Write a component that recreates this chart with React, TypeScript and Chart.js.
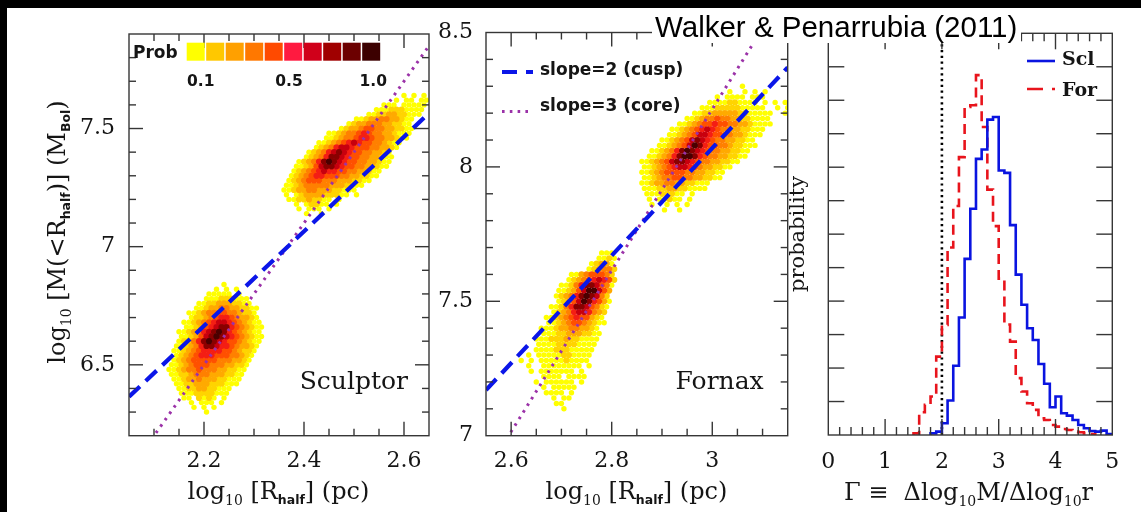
import { useEffect, useRef } from 'react';
import { Chart, registerables } from 'chart.js';

Chart.register(...registerables);

// ------------------------------------------------------------------ data
const probColors = ['#ffff00', '#ffc800', '#ffa000', '#ff7800', '#ff4a00', '#ff1a40', '#d0001a', '#a00000', '#6c0000', '#3c0000'];
const probLabels = ['0.1', '0.5', '1.0'];
// colour of density levels 1..9 of the clouds
const cloudColors = ['#ffff00', '#ffd400', '#ffaa00', '#ff8000', '#ff5000', '#f41e14', '#c8000e', '#8a0000', '#4a0000'];

// density maps: one character per cell ('.' = empty, 1..9 = level)
const cellSize = [0.01, 0.02]; // [d log R, d log M]

const sculptorHighOrigin = [2.36, 7.64]; // x of first column, y of first row
const sculptorHighRows = [
  '........................1.1.1.',
  '......................1.11.11.',
  '....................111.11111.',
  '..................1112221111..',
  '.................11223322111..',
  '..............112334433211....',
  '.............1233444332211....',
  '...........123345544332211....',
  '.........11234456544332111....',
  '........11234456654433211.....',
  '.......11234567655443211......',
  '......12346776555443321.......',
  '.....12346787655443321........',
  '....123468876554433211........',
  '...1234689876554433211........',
  '..1123578876554433211.........',
  '..123456766554433211..........',
  '.123456655544332211...........',
  '.12345554443332211............',
  '1123444443332211..............',
  '112334433322111...............',
  '1.12333322211.1...............',
  '.112232211.1..................',
  '..1.12211.1...................',
  '...1.111.1....................',
  '....1..1......................',
];

const sculptorLowOrigin = [2.13, 6.84];
const sculptorLowRows = [
  '...........1.......',
  '.........1.1.1.....',
  '........11111.1....',
  '.......111222111...',
  '......11223332211..',
  '.....1123344332211.',
  '....11234455443221.',
  '....12234566543321.',
  '...1123456776543211',
  '...1123567886543211',
  '..11234678986543211',
  '..11235789876543211',
  '..12246898765543211',
  '.11234688766543321.',
  '.11234566665543221.',
  '.1234566655544321..',
  '.1234555554443321..',
  '1123455544433221...',
  '1123445444332211...',
  '112234443332211....',
  '.11233433322111....',
  '.1122333222111.....',
  '..11223322111......',
  '..1112222111.......',
  '...11.2121.1.......',
  '....1.111.1........',
  '.....1.1.1.........',
  '.......1...........',
];

const fornaxHighOrigin = [2.86, 8.30];
const fornaxHighRows = [
  '....................1.........',
  '.................1..1.1.1.....',
  '...............1.1111.111.....',
  '.............1111221111.1.1.1.',
  '............1112222211111..1.1',
  '..........1122333332211111..1.',
  '.........11234454433221111....',
  '.......1123455655443321111....',
  '......1123456765443322111.....',
  '.....1123457765544332111......',
  '....1123457876544332211.......',
  '...11234579865544322111.......',
  '..11234689876544332211........',
  '.11234689986544332211.........',
  '11234578876544332211..........',
  '112345677654332211............',
  '11234555544332211.............',
  '1123445544332211..............',
  '11233443322111................',
  '1112233221111.................',
  '.11122211.1...................',
  '.1.11211.1....................',
  '..1..1.1.1....................',
  '....1..1......................',
];

const fornaxLowOrigin = [2.62, 7.68];
const fornaxLowRows = [
  '................111.',
  '...............1121.',
  '..............12331.',
  '.............123442.',
  '..........113455542.',
  '.........1234567652.',
  '........11246887541.',
  '.......11235799753..',
  '.......12346898742..',
  '.......12357986531..',
  '......112468875421..',
  '......12346776432...',
  '.....112345655321...',
  '.....112345543211...',
  '....111233443321....',
  '....111223332211....',
  '...1112223221111....',
  '...111122221111.....',
  '...111122211111.....',
  '.1.11111221111......',
  '1.1.1111121111......',
  '.1..11111111.1......',
  '..1.1111111.1.......',
  '....1111.1111.......',
  '...1.111111.1.......',
  '....1.11111.........',
  '.....1111.1.........',
  '......1.11..........',
  '.......11...........',
  '........1...........',
];

// reference relations log M = slope * log R + intercept
const slopes = [2, 3];
const slopeLabels = ['slope=2 (cusp)', 'slope=3 (core)'];
const sculptorIntercepts = [2.265, -0.1];
const fornaxIntercepts = [2.07, -0.785];

// axes
const sculptorXRange = [2.05, 2.65];
const sculptorYRange = [6.2, 7.9];
const fornaxXRange = [2.55, 3.15];
const fornaxYRange = [7, 8.5];
const gammaRange = [0, 5];
const probRange = [0, 12];
const sculptorXTicks = [2.2, 2.4, 2.6];
const sculptorYTicks = [6.5, 7, 7.5];
const fornaxXTicks = [2.6, 2.8, 3];
const fornaxYTicks = [7, 7.5, 8, 8.5];
const gammaTicks = [0, 1, 2, 3, 4, 5];

// histograms of Gamma
const gammaEdges = [1.5, 1.6, 1.7, 1.8, 1.9, 2.0, 2.1, 2.2, 2.3, 2.4, 2.5, 2.6, 2.7, 2.8, 2.9, 3.0, 3.1, 3.2, 3.3, 3.4, 3.5,
  3.6, 3.7, 3.8, 3.9, 4.0, 4.1, 4.2, 4.3, 4.4, 4.5, 4.6, 4.7, 4.8, 4.9, 5.0];
const sclProb = [0, 0, 0, 0.05, 0.1, 0.35, 1.03, 2.07, 3.51, 5.26, 6.76, 8.25, 8.53, 9.42, 9.5, 7.9, 7.83, 6.27, 4.79, 3.89,
  3.19, 2.84, 2.12, 1.53, 0.83, 1.15, 0.65, 0.58, 0.45, 0.3, 0.2, 0.12, 0.1, 0.13, 0.03];
const forProb = [0.05, 0.68, 0.9, 1.15, 2.34, 3.29, 5.6, 6.84, 8.3, 9.8, 9.85, 10.75, 9.2, 7.33, 6.24, 4.67, 3.3, 2.79, 1.7, 1.3,
  0.95, 0.75, 0.5, 0.45, 0.3, 0.25, 0.18, 0.15, 0.1, 0.08, 0.05, 0.03, 0, 0, 0];
const cuspGamma = 2;

// ------------------------------------------------------------------ helpers
const SERIF = '"DejaVu Serif", "Liberation Serif", serif';
const AX = '#363636';
const TXT = '#151515';

const serif = (s: number) => `${s}px ${SERIF}`;
const subBold = (s: number) => `bold ${s}px "DejaVu Sans", sans-serif`;

function cloudDatasets(clouds: any[]) {
  const buckets: any[][] = cloudColors.map(() => []);
  clouds.forEach(({ origin, rows }) => {
    rows.forEach((row: string, j: number) => {
      // alternate rows are offset by half a cell (hexagonal map)
      const shift = (j % 2) * 0.5;
      for (let i = 0; i < row.length; i++) {
        const c = row[i];
        if (c >= '1' && c <= '9') {
          buckets[+c - 1].push({ x: origin[0] + (i + shift) * cellSize[0], y: origin[1] - j * cellSize[1] });
        }
      }
    });
  });
  return buckets.map((pts, k) => ({
    type: 'scatter',
    data: pts,
    pointRadius: k === 0 ? 2.7 : 3.1,
    pointBackgroundColor: cloudColors[k],
    pointBorderWidth: 0,
    pointHoverRadius: 0,
    clip: 0,
    order: 30 - k,
  }));
}

function relationDatasets(xr: number[], intercepts: number[]) {
  const styles = [
    { color: '#0b16e8', width: 4.2, dash: [15, 8] },
    { color: '#9b32a8', width: 3, dash: [2.6, 5.2] },
  ];
  return slopes.map((s, i) => ({
    type: 'line',
    showLine: true,
    data: [{ x: xr[0], y: s * xr[0] + intercepts[i] }, { x: xr[1], y: s * xr[1] + intercepts[i] }],
    borderColor: styles[i].color,
    borderWidth: styles[i].width,
    borderDash: styles[i].dash,
    pointRadius: 0,
    fill: false,
    clip: 0,
    order: i === 0 ? 1 : 2,
  }));
}

function inner(min: number, max: number, step: number) {
  const n = Math.round((max - min) / step);
  const out: number[] = [];
  for (let k = 1; k < n; k++) out.push(min + k * step);
  return out;
}

function line(ctx: CanvasRenderingContext2D, x1: number, y1: number, x2: number, y2: number) {
  ctx.beginPath();
  ctx.moveTo(x1, y1);
  ctx.lineTo(x2, y2);
  ctx.stroke();
}

function drawAxes(chart: any, spec: any) {
  const { ctx, chartArea: a } = chart;
  const x = chart.scales.x;
  const y = chart.scales.y;
  ctx.save();
  ctx.strokeStyle = AX;
  ctx.lineWidth = 1.4;
  const isMaj = (arr: number[], v: number, st: number) => arr.some((m) => Math.abs(m - v) < st / 10);
  inner(x.min, x.max, spec.xStep).forEach((v) => {
    const p = x.getPixelForValue(v);
    const L = isMaj(spec.xMajor, v, spec.xStep) ? spec.majLen : spec.minLen;
    line(ctx, p, a.bottom, p, a.bottom - L);
    line(ctx, p, a.top, p, a.top + L);
  });
  inner(y.min, y.max, spec.yStep).forEach((v) => {
    const p = y.getPixelForValue(v);
    const L = spec.yAllMajor || isMaj(spec.yMajor, v, spec.yStep) ? spec.majLen : spec.minLen;
    line(ctx, a.left, p, a.left + L, p);
    line(ctx, a.right, p, a.right - L, p);
  });
  ctx.strokeRect(a.left, a.top, a.right - a.left, a.bottom - a.top);

  ctx.fillStyle = TXT;
  ctx.font = serif(spec.tickFont);
  ctx.textAlign = 'center';
  ctx.textBaseline = 'alphabetic';
  spec.xMajor.forEach((v: number) => ctx.fillText(String(v), x.getPixelForValue(v), a.bottom + spec.xLabelOff));
  if (spec.yLabels) {
    ctx.textAlign = 'right';
    ctx.textBaseline = 'middle';
    spec.yMajor.forEach((v: number) => ctx.fillText(String(v), a.left - spec.yLabelGap, y.getPixelForValue(v)));
  }
  ctx.restore();
}

type Part = { t: string; font: string; dy?: number };

function drawRich(ctx: CanvasRenderingContext2D, parts: Part[], cx: number, cy: number, rot = 0) {
  ctx.save();
  ctx.translate(cx, cy);
  ctx.rotate(rot);
  let w = 0;
  parts.forEach((p) => { ctx.font = p.font; w += ctx.measureText(p.t).width; });
  let px = -w / 2;
  ctx.fillStyle = TXT;
  ctx.textAlign = 'left';
  ctx.textBaseline = 'alphabetic';
  parts.forEach((p) => {
    ctx.font = p.font;
    ctx.fillText(p.t, px, p.dy || 0);
    px += ctx.measureText(p.t).width;
  });
  ctx.restore();
}

const log10Parts = (s: number): Part[] => [
  { t: 'log', font: serif(s) },
  { t: '10', font: serif(s * 0.58), dy: s * 0.25 },
];
const halfPart = (s: number): Part => ({ t: 'half', font: subBold(s * 0.52), dy: s * 0.22 });
const rHalfTitle = (s: number): Part[] => [
  ...log10Parts(s),
  { t: ' [R', font: serif(s) },
  halfPart(s),
  { t: '] (pc)', font: serif(s) },
];

function baseOptions(xr: number[], yr: number[], pad: any) {
  return {
    responsive: false,
    animation: false,
    events: [],
    layout: { padding: pad },
    plugins: { legend: { display: false }, tooltip: { enabled: false }, title: { display: false } },
    scales: {
      x: { type: 'linear', display: false, min: xr[0], max: xr[1] },
      y: { type: 'linear', display: false, min: yr[0], max: yr[1] },
    },
  };
}

// ------------------------------------------------------------------ panels
function sculptorConfig(): any {
  return {
    type: 'scatter',
    data: {
      datasets: [
        ...cloudDatasets([
          { origin: sculptorHighOrigin, rows: sculptorHighRows },
          { origin: sculptorLowOrigin, rows: sculptorLowRows },
        ]),
        ...relationDatasets(sculptorXRange, sculptorIntercepts),
      ],
    },
    options: baseOptions(sculptorXRange, sculptorYRange, { left: 121, right: 712, top: 26, bottom: 76.3 }),
    plugins: [{
      id: 'sculptorDeco',
      afterDatasetsDraw(chart: any) {
        const { ctx, chartArea: a } = chart;
        drawAxes(chart, {
          xMajor: sculptorXTicks, xStep: 0.05, yMajor: sculptorYTicks, yStep: 0.1,
          majLen: 14, minLen: 7, tickFont: 22, xLabelOff: 31, yLabels: true, yLabelGap: 14,
        });
        // colour bar
        const bx = a.left + 57.7;
        const by = a.top + 8.7;
        const sw = 19.5;
        probColors.forEach((c, i) => {
          ctx.fillStyle = c;
          ctx.fillRect(bx + i * sw, by, sw - 1.5, 18);
        });
        ctx.fillStyle = TXT;
        ctx.font = 'bold 17px "DejaVu Sans", sans-serif';
        ctx.textAlign = 'left';
        ctx.fillText('Prob', a.left + 4, a.top + 24);
        ctx.font = 'bold 15.5px "DejaVu Sans", sans-serif';
        ctx.textAlign = 'center';
        const offs = [14, 102.3, 186.6];
        probLabels.forEach((t, i) => ctx.fillText(t, bx + offs[i], a.top + 51.5));
        // name
        ctx.font = serif(25);
        ctx.textAlign = 'right';
        ctx.fillText('Sculptor', a.right - 21, a.top + 355);
        // axis titles
        drawRich(ctx, rHalfTitle(24), (a.left + a.right) / 2 - 0.5, 491);
        drawRich(ctx, [
          ...log10Parts(24),
          { t: ' [M(<R', font: serif(24) },
          halfPart(24),
          { t: ')] (M', font: serif(24) },
          { t: 'Bol', font: subBold(24 * 0.52), dy: 24 * 0.22 },
          { t: ')', font: serif(24) },
        ], 57, 224, -Math.PI / 2);
      },
    }],
  };
}

function fornaxConfig(): any {
  return {
    type: 'scatter',
    data: {
      datasets: [
        ...cloudDatasets([
          { origin: fornaxHighOrigin, rows: fornaxHighRows },
          { origin: fornaxLowOrigin, rows: fornaxLowRows },
        ]),
        ...relationDatasets(fornaxXRange, fornaxIntercepts),
      ],
    },
    options: baseOptions(fornaxXRange, fornaxYRange, { left: 478, right: 353.3, top: 24.5, bottom: 76.3 }),
    plugins: [{
      id: 'fornaxDeco',
      afterDatasetsDraw(chart: any) {
        const { ctx, chartArea: a } = chart;
        drawAxes(chart, {
          xMajor: fornaxXTicks, xStep: 0.05, yMajor: fornaxYTicks, yStep: 0.1,
          majLen: 14, minLen: 7, tickFont: 22, xLabelOff: 31, yLabels: true, yLabelGap: 13,
        });
        // legend
        ctx.save();
        ctx.lineCap = 'butt';
        ctx.strokeStyle = '#0b16e8';
        ctx.lineWidth = 4.2;
        ctx.setLineDash([15, 9]);
        line(ctx, a.left + 16, a.top + 39.5, a.left + 47, a.top + 39.5);
        ctx.strokeStyle = '#9b32a8';
        ctx.lineWidth = 3;
        ctx.setLineDash([2.6, 5.2]);
        line(ctx, a.left + 16, a.top + 79, a.left + 46, a.top + 79);
        ctx.restore();
        ctx.fillStyle = TXT;
        ctx.font = 'bold 17px "DejaVu Sans", sans-serif';
        ctx.textAlign = 'left';
        ctx.fillText(slopeLabels[0], a.left + 54, a.top + 42);
        ctx.fillText(slopeLabels[1], a.left + 54, a.top + 78);
        ctx.font = serif(25);
        ctx.textAlign = 'right';
        ctx.fillText('Fornax', a.right - 24, a.top + 356);
        drawRich(ctx, rHalfTitle(24), 628.5, 491);
      },
    }],
  };
}

function stepData(edges: number[], vals: number[]) {
  const first = vals.findIndex((v) => v > 0);
  let last = vals.length - 1;
  while (last > 0 && !(vals[last] > 0)) last--;
  const pts = [{ x: edges[first], y: 0 }];
  for (let i = first; i <= last; i++) pts.push({ x: edges[i], y: vals[i] });
  pts.push({ x: edges[last + 1], y: 0 });
  return pts;
}

function gammaConfig(): any {
  return {
    type: 'line',
    data: {
      datasets: [
        {
          data: [{ x: cuspGamma, y: probRange[0] }, { x: cuspGamma, y: probRange[1] }],
          borderColor: '#000', borderWidth: 2.6, borderDash: [2.2, 3.6], pointRadius: 0, fill: false, clip: 0, order: 3,
        },
        {
          data: stepData(gammaEdges, forProb), stepped: true,
          borderColor: '#e8141c', borderWidth: 2.6, borderDash: [10, 6], pointRadius: 0, fill: false, clip: 0, order: 2,
        },
        {
          data: stepData(gammaEdges, sclProb), stepped: true,
          borderColor: '#0a14e0', borderWidth: 2.6, pointRadius: 0, fill: false, clip: 0, order: 1,
        },
      ],
    },
    options: baseOptions(gammaRange, probRange, { left: 820.3, right: 28.7, top: 25.3, bottom: 77 }),
    plugins: [{
      id: 'gammaDeco',
      afterDatasetsDraw(chart: any) {
        const { ctx, chartArea: a } = chart;
        drawAxes(chart, {
          xMajor: gammaTicks, xStep: 0.2, yMajor: [], yStep: 1, yAllMajor: true,
          majLen: 16, minLen: 8, tickFont: 22, xLabelOff: 33, yLabels: false,
        });
        // legend
        ctx.save();
        ctx.strokeStyle = '#0a14e0';
        ctx.lineWidth = 2.6;
        line(ctx, a.left + 198.7, a.top + 27.7, a.left + 226.7, a.top + 27.7);
        ctx.strokeStyle = '#e8141c';
        ctx.setLineDash([16, 9]);
        line(ctx, a.left + 198.7, a.top + 55.7, a.left + 226.7, a.top + 55.7);
        ctx.restore();
        ctx.fillStyle = TXT;
        ctx.font = `bold 19px ${SERIF}`;
        ctx.textAlign = 'left';
        ctx.fillText('Scl', a.left + 233.7, a.top + 31.7);
        ctx.fillText('For', a.left + 233.7, a.top + 62.7);
        // axis titles
        drawRich(ctx, [
          { t: 'Γ ≡  Δlog', font: serif(24) },
          { t: '10', font: serif(14), dy: 6 },
          { t: 'M/Δlog', font: serif(24) },
          { t: '10', font: serif(14), dy: 6 },
          { t: 'r', font: serif(24) },
        ], 960.5, 492);
        drawRich(ctx, [{ t: 'probability', font: serif(21) }], 795.5, 226, -Math.PI / 2);
      },
      afterDraw(chart: any) {
        const { ctx } = chart;
        ctx.save();
        ctx.fillStyle = '#fff';
        ctx.fillRect(644, 0, 369, 35);
        ctx.fillStyle = '#000';
        ctx.font = '29.5px "Liberation Sans", Arial, sans-serif';
        ctx.textAlign = 'left';
        ctx.textBaseline = 'alphabetic';
        ctx.fillText('Walker & Penarrubia (2011)', 647, 28.5);
        ctx.restore();
      },
    }],
  };
}

// ------------------------------------------------------------------ component
export default function App() {
  const c1 = useRef<HTMLCanvasElement>(null);
  const c2 = useRef<HTMLCanvasElement>(null);
  const c3 = useRef<HTMLCanvasElement>(null);

  useEffect(() => {
    const html = document.documentElement;
    html.style.overflow = 'hidden';
    html.style.background = '#fff';
    document.body.style.overflow = 'hidden';
    document.body.style.background = '#fff';
    const charts = [
      new Chart(c1.current as HTMLCanvasElement, sculptorConfig()),
      new Chart(c2.current as HTMLCanvasElement, fornaxConfig()),
      new Chart(c3.current as HTMLCanvasElement, gammaConfig()),
    ];
    return () => charts.forEach((c) => c.destroy());
  }, []);

  const cs: any = { position: 'absolute', left: 0, top: 0, width: 1133, height: 504 };
  return (
    <>
      <div style={{ position: 'fixed', left: 0, top: 0, width: '100vw', height: 8, background: '#000' }} />
      <div style={{ position: 'fixed', left: 0, top: 0, width: 7, height: '100vh', background: '#000' }} />
      <div style={{ position: 'absolute', left: 8, top: 8, width: 1133, height: 504 }}>
        <canvas ref={c1} width={1133} height={504} style={cs} />
        <canvas ref={c2} width={1133} height={504} style={cs} />
        <canvas ref={c3} width={1133} height={504} style={cs} />
      </div>
    </>
  );
}
